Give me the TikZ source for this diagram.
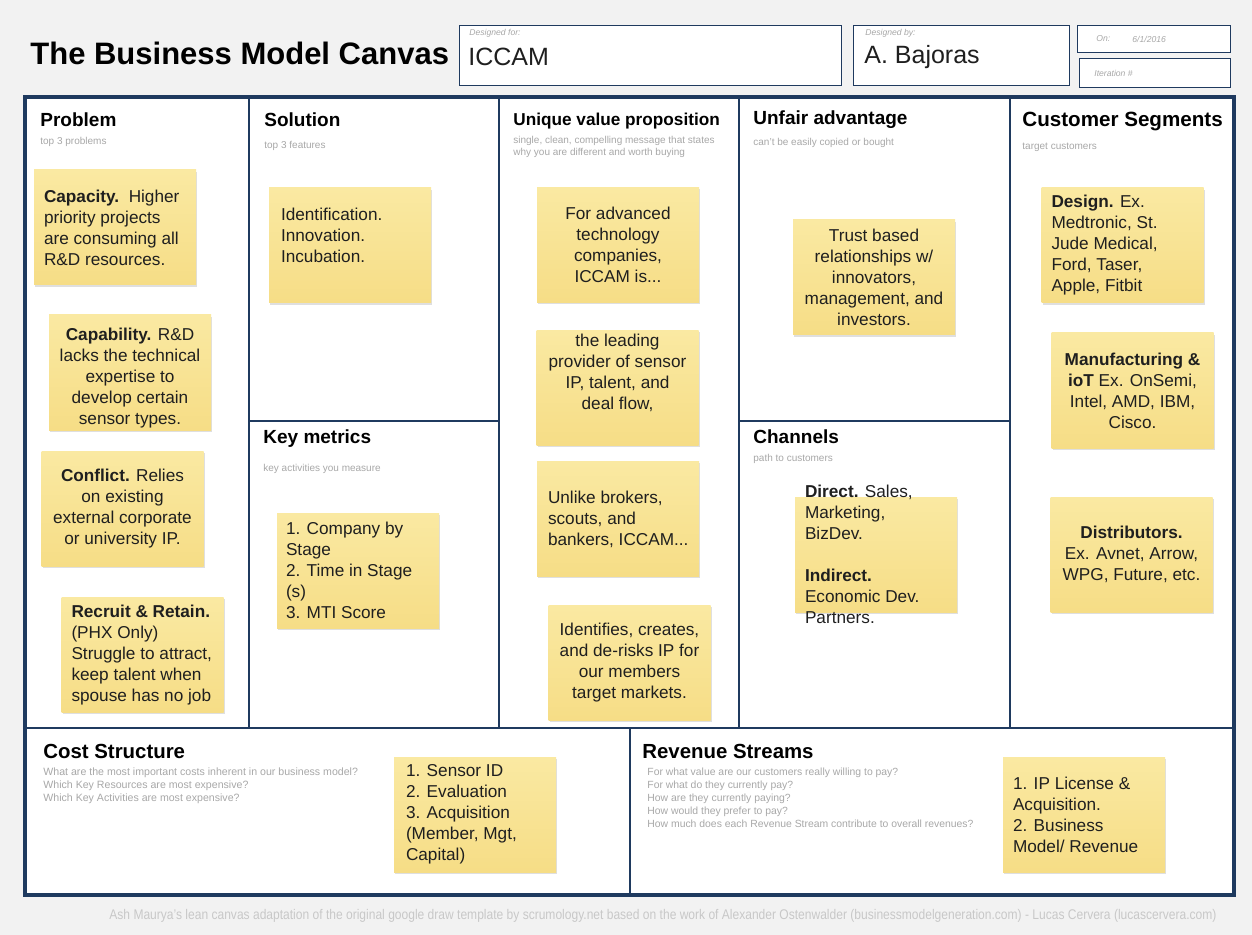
\documentclass[tikz,border=0pt]{standalone}
\usepackage{fontspec}
\setmainfont{Liberation Sans}
\usetikzlibrary{positioning,shadows}

\definecolor{canvasnavy}{HTML}{1F3A5F}
\definecolor{notetop}{HTML}{FAE9A2}
\definecolor{notebottom}{HTML}{F6DD86}
\definecolor{hintgray}{HTML}{A8A8A8}
\definecolor{footgray}{HTML}{C8C8C8}
\definecolor{pagegray}{HTML}{F2F2F2}

\tikzset{
  heading/.style={anchor=west, inner sep=0pt, font=\bfseries\fontsize{9.5}{11}\selectfont},
  hint/.style={anchor=west, inner sep=0pt, align=left, text=hintgray,
    font=\fontsize{5}{6.4}\selectfont},
  postit/.style={top color=notetop, bottom color=notebottom, inner sep=0pt,
    minimum width=81pt, minimum height=57.5pt,
    drop shadow={shadow xshift=0.7pt, shadow yshift=-0.9pt, opacity=0.25}},
  notetext/.style={inner sep=0pt, align=center, text=black!88,
    font=\fontsize{8.6}{10.5}\selectfont},
  infobox/.style={draw=canvasnavy, line width=0.6pt, fill=white, inner sep=0pt,
    anchor=north west},
  boxlabel/.style={anchor=west, inner sep=0pt, text=hintgray,
    font=\itshape\fontsize{4.3}{5}\selectfont},
  boxvalue/.style={anchor=west, inner sep=0pt, text=black!88,
    font=\fontsize{12.5}{14}\selectfont},
  divider/.style={draw=canvasnavy, line width=1.2pt},
}

\begin{document}
\begin{tikzpicture}[x=0.5pt, y=-0.5pt]
  % page
  \fill[pagegray] (0,0) rectangle (1252,935);
  \useasboundingbox (0,0) rectangle (1252,935);

  % header
  \node[anchor=west, inner sep=0pt, font=\bfseries\fontsize{15.5}{18}\selectfont]
    (title) at (30,53) {The Business Model Canvas};
  \node[infobox, minimum width=191pt, minimum height=30pt] (forbox) at (459,25) {};
  \node[infobox, minimum width=108pt, minimum height=30pt] (bybox) at (853,25) {};
  \node[infobox, minimum width=76.5pt, minimum height=13.5pt] (onbox) at (1077,25) {};
  \node[infobox, minimum width=75.5pt, minimum height=14.5pt] (iterbox) at (1079,58) {};
  \node[boxlabel] (forlbl) at (469,33) {Designed for:};
  \node[boxvalue] (forval) at (468,57) {ICCAM};
  \node[boxlabel] (bylbl) at (865,33) {Designed by:};
  \node[boxvalue] (byval) at (864,57) {A. Bajoras};
  \node[boxlabel] (onlbl) at (1096,39) {On:};
  \node[boxlabel] (onval) at (1132,39) {6/1/2016};
  \node[boxlabel] (iterlbl) at (1094,73) {Iteration \#};

  % canvas frame and blocks
  \fill[white] (25,97) rectangle (1234,895);
  \draw[divider] (249,97) -- (249,728);
  \draw[divider] (499,97) -- (499,728);
  \draw[divider] (739,97) -- (739,728);
  \draw[divider] (1010,97) -- (1010,728);
  \draw[divider] (249,421) -- (499,421);
  \draw[divider] (739,421) -- (1010,421);
  \draw[divider] (25,728) -- (1234,728);
  \draw[divider] (630,728) -- (630,895);
  \draw[canvasnavy, line width=2.2pt] (25,97) rectangle (1234,895);

  % block titles
  \node[heading] (problem) at (40,120) {Problem};
  \node[hint] at (40,142) {top 3 problems};
  \node[heading] (solution) at (264,120) {Solution};
  \node[hint] at (264,146) {top 3 features};
  \node[heading, font=\bfseries\fontsize{8.6}{10}\selectfont] (uvp) at (513,121)
    {Unique value proposition};
  \node[hint] at (513,147) {single, clean, compelling message that states\\why you are different and worth buying};
  \node[heading] (unfair) at (753,120) {Unfair advantage};
  \node[hint] at (753,143) {can't be easily copied or bought};
  \node[heading, font=\bfseries\fontsize{10.3}{12}\selectfont] (segments) at (1022,121)
    {Customer Segments};
  \node[hint] at (1022,147) {target customers};
  \node[heading] (metrics) at (263,439) {Key metrics};
  \node[hint] at (263,469) {key activities you measure};
  \node[heading] (channels) at (753,437) {Channels};
  \node[hint] at (753,459) {path to customers};
  \node[heading, font=\bfseries\fontsize{10.2}{12}\selectfont] (cost) at (43,751)
    {Cost Structure};
  \node[hint, font=\fontsize{5.3}{6.5}\selectfont] at (43,786)
    {What are the most important costs inherent in our business model?\\
    Which Key Resources are most expensive?\\Which Key Activities are most expensive?};
  \node[heading, font=\bfseries\fontsize{10.2}{12}\selectfont] (revenue) at (642,751)
    {Revenue Streams};
  \node[hint, font=\fontsize{5.2}{6.5}\selectfont] at (647,798)
    {For what value are our customers really willing to pay?\\
    For what do they currently pay?\\How are they currently paying?\\
    How would they prefer to pay?\\
    How much does each Revenue Stream contribute to overall revenues?};

  % sticky notes: problem
  \node[postit] (prob1) at (115,227.5) {};
  \node[notetext, align=left, anchor=west] at ([xshift=5pt]prob1.west)
    {\textbf{Capacity.}\ \ Higher\\priority projects\\are consuming all\\R\&D resources.};
  \node[postit] (prob2) at (130,372.5) {};
  \node[notetext, yshift=-3pt] at (prob2)
    {\textbf{Capability.} R\&D\\lacks the technical\\expertise to\\develop certain\\sensor types.};
  \node[postit] (prob3) at (122.5,508.5) {};
  \node[notetext] at (prob3)
    {\textbf{Conflict.} Relies\\on existing\\external corporate\\or university IP.};
  \node[postit] (prob4) at (142.5,655) {};
  \node[notetext, align=left, anchor=west] at ([xshift=5pt]prob4.west)
    {\textbf{Recruit \& Retain.}\\(PHX Only)\\Struggle to attract,\\keep talent when\\spouse has no job};

  % solution and key metrics
  \node[postit] (sol1) at (350,245.5) {};
  \node[notetext, align=left, anchor=west, yshift=5pt] at ([xshift=6pt]sol1.west)
    {Identification.\\Innovation.\\Incubation.};
  \node[postit] (metric1) at (358,570.5) {};
  \node[notetext, align=left, anchor=west] at ([xshift=4.5pt]metric1.west)
    {1. Company by\\Stage\\2. Time in Stage\\(s)\\3. MTI Score};

  % unique value proposition
  \node[postit] (uvp1) at (618,245) {};
  \node[notetext] at (uvp1) {For advanced\\technology\\companies,\\ICCAM is...};
  \node[postit] (uvp2) at (617.5,388) {};
  \node[notetext, yshift=7.5pt] at (uvp2)
    {the leading\\provider of sensor\\IP, talent, and\\deal flow,};
  \node[postit] (uvp3) at (618,519) {};
  \node[notetext, align=left, anchor=west] at ([xshift=5.5pt]uvp3.west)
    {Unlike brokers,\\scouts, and\\bankers, ICCAM...};
  \node[postit] (uvp4) at (629.5,663) {};
  \node[notetext] at (uvp4)
    {Identifies, creates,\\and de-risks IP for\\our members\\target markets.};

  % unfair advantage and channels
  \node[postit] (adv1) at (874,277.5) {};
  \node[notetext] at (adv1)
    {Trust based\\relationships w/\\innovators,\\management, and\\investors.};
  \node[postit] (chan1) at (876,554.5) {};
  \node[notetext, align=left, anchor=west] at ([xshift=5pt]chan1.west)
    {\textbf{Direct.} Sales,\\Marketing,\\BizDev.\\[10.5pt]\textbf{Indirect.}\\Economic Dev.\\Partners.};

  % customer segments
  \node[postit] (seg1) at (1122.5,245.5) {};
  \node[notetext, align=left, anchor=west] at ([xshift=5pt]seg1.west)
    {\textbf{Design.} Ex.\\Medtronic, St.\\Jude Medical,\\Ford, Taser,\\Apple, Fitbit};
  \node[postit] (seg2) at (1132.5,390.5) {};
  \node[notetext] at (seg2)
    {\textbf{Manufacturing \&}\\\textbf{ioT} Ex. OnSemi,\\Intel, AMD, IBM,\\Cisco.};
  \node[postit] (seg3) at (1131.5,554.5) {};
  \node[notetext] at (seg3)
    {\textbf{Distributors.}\\Ex. Avnet, Arrow,\\WPG, Future, etc.};

  % cost structure and revenue streams
  \node[postit] (cost1) at (475,814.5) {};
  \node[notetext, align=left, anchor=west] at ([xshift=6pt]cost1.west)
    {1. Sensor ID\\2. Evaluation\\3. Acquisition\\(Member, Mgt,\\Capital)};
  \node[postit] (rev1) at (1084,814.5) {};
  \node[notetext, align=left, anchor=west] at ([xshift=5pt]rev1.west)
    {1. IP License \&\\Acquisition.\\2. Business\\Model/ Revenue};

  % credits
  \node[inner sep=0pt, text=footgray] (credits) at (663,916)
    {\scalebox{0.86}[1]{\fontsize{7}{8}\selectfont Ash Maurya's lean canvas adaptation of the original google draw template by scrumology.net based on the work of Alexander Ostenwalder (businessmodelgeneration.com) - Lucas Cervera (lucascervera.com)}};
\end{tikzpicture}
\end{document}
